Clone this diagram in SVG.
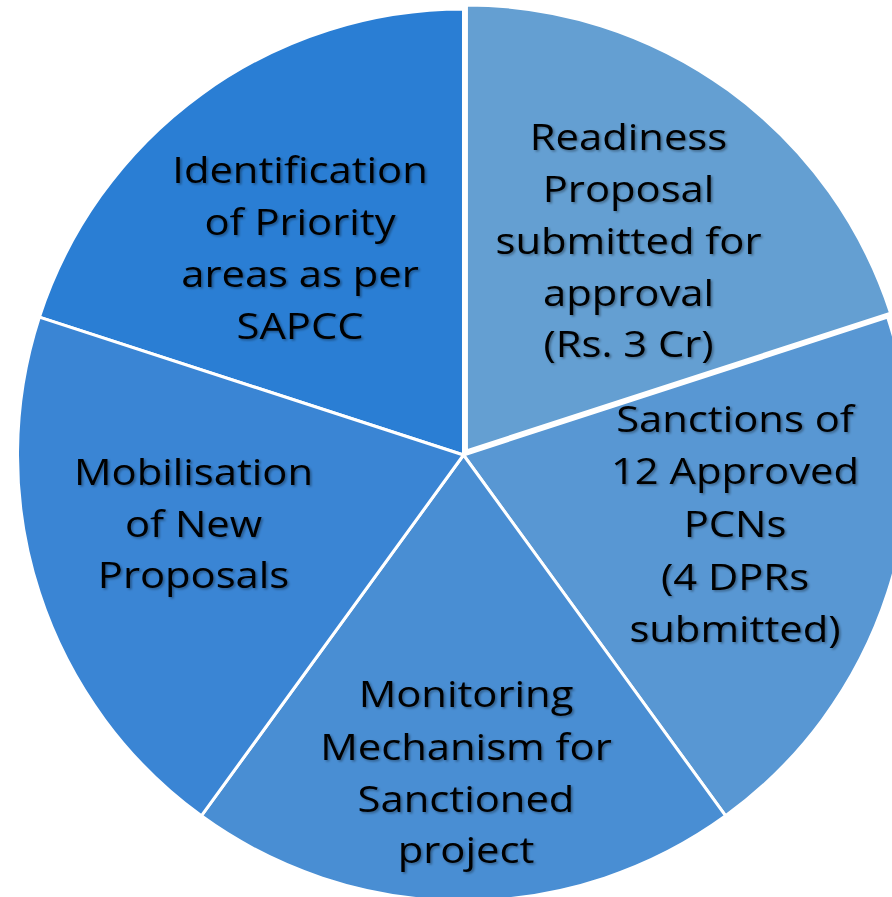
<svg xmlns="http://www.w3.org/2000/svg" width="892" height="897" viewBox="0 0 892 897">
<defs>
<filter id="sh" x="-10%" y="-10%" width="120%" height="130%">
<feDropShadow dx="1.5" dy="1.5" stdDeviation="1" flood-color="#000" flood-opacity="0.35"/>
</filter>
<style>
.sl{stroke:#fff;stroke-width:3;stroke-linejoin:round}
.t{font-family:"Open Sans","Noto Sans",sans-serif;font-size:36px;fill:#000;text-anchor:middle;filter:url(#sh)}
</style>
</defs>
<rect width="892" height="897" fill="#fff"/>
<g id="slice-identification">
<path class="sl" fill="#2A7ED4" d="M463.5,455 L39.33,317.18 A446,446 0 0 1 463.5,9 Z"/>
<g transform="translate(300,0) scale(1.16,1)">
<text class="t" x="0" y="183">Identification</text>
<text class="t" x="0" y="235">of Priority</text>
<text class="t" x="0" y="287">areas as per</text>
<text class="t" x="0" y="339">SAPCC</text>
</g>
</g>
<g id="slice-readiness">
<path class="sl" fill="#649FD2" d="M466.44,450.95 L466.44,4.95 A446,446 0 0 1 890.61,313.13 Z"/>
<g transform="translate(628.5,0) scale(1.16,1)">
<text class="t" x="0" y="150">Readiness</text>
<text class="t" x="0" y="202">Proposal</text>
<text class="t" x="0" y="254">submitted for</text>
<text class="t" x="0" y="306">approval</text>
<text class="t" x="0" y="357">(Rs. 3 Cr)</text>
</g>
</g>
<g id="slice-sanctions">
<path class="sl" fill="#5897D3" d="M463.5,455 L887.67,317.18 A446,446 0 0 1 725.66,815.83 Z"/>
<g transform="translate(735,0) scale(1.16,1)">
<text class="t" x="0" y="432">Sanctions of</text>
<text class="t" x="0" y="484">12 Approved</text>
<text class="t" x="0" y="537">PCNs</text>
<text class="t" x="0" y="590">(4 DPRs</text>
<text class="t" x="0" y="642">submitted)</text>
</g>
</g>
<g id="slice-monitoring">
<path class="sl" fill="#498ED3" d="M463.5,455 L725.66,815.83 A446,446 0 0 1 201.34,815.83 Z"/>
<g transform="translate(466,0) scale(1.16,1)">
<text class="t" x="0" y="707">Monitoring</text>
<text class="t" x="0" y="760">Mechanism for</text>
<text class="t" x="0" y="812">Sanctioned</text>
<text class="t" x="0" y="863">project</text>
</g>
</g>
<g id="slice-mobilisation">
<path class="sl" fill="#3A85D4" d="M463.5,455 L201.34,815.83 A446,446 0 0 1 39.33,317.18 Z"/>
<g transform="translate(193.5,0) scale(1.16,1)">
<text class="t" x="0" y="485">Mobilisation</text>
<text class="t" x="0" y="537">of New</text>
<text class="t" x="0" y="588">Proposals</text>
</g>
</g>
<g id="connectors"/>
</svg>
